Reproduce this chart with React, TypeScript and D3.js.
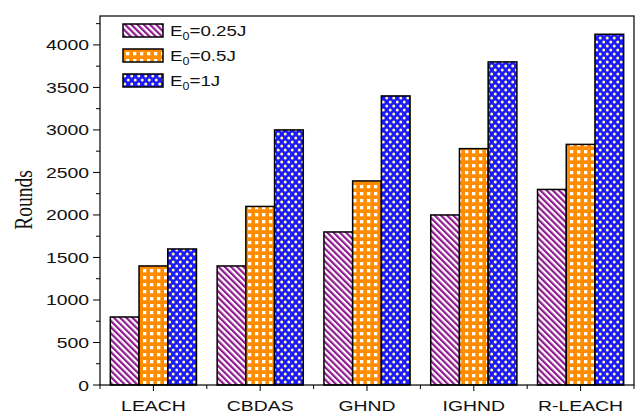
import React from "react";
import * as d3 from "d3";

const categories = ["LEACH", "CBDAS", "GHND", "IGHND", "R-LEACH"];
const seriesLabels = ["0.25J", "0.5J", "1J"];
const e025 = [800, 1400, 1800, 2000, 2300];
const e05 = [1400, 2100, 2400, 2780, 2830];
const e1 = [1600, 3000, 3400, 3800, 4125];
const yTicks = [0, 500, 1000, 1500, 2000, 2500, 3000, 3500, 4000];

const W = 641, H = 417;
const M = { left: 100, right: 7, top: 16, bottom: 32 };
const SX = 1.25;
const SANS = "Liberation Sans, Arial, sans-serif";

function T({ x, y, anchor, size, children, family }: any) {
  return (
    <text transform={`translate(${x},${y}) scale(${SX},1)`} textAnchor={anchor || "start"}
      fontFamily={family || SANS} fontSize={size || 15.5} fill="#111">{children}</text>
  );
}

export default function App() {
  const series = [e025, e05, e1];
  const x = d3.scaleBand<string>().domain(categories).range([M.left, W - M.right]).paddingInner(0).paddingOuter(0);
  const inner = d3.scaleBand<number>().domain([0, 1, 2]).range([0, x.bandwidth()]).paddingOuter(0.36).paddingInner(0);
  const y = d3.scaleLinear().domain([0, 4340]).range([H - M.bottom, M.top]);
  const minor = d3.range(250, 4340, 500);
  const fills = ["url(#pStripe)", "url(#pGrid)", "url(#pDots)"];
  const y0 = y(0);
  return (
    <svg width={W} height={H} style={{ position: "absolute", left: 0, top: 0, background: "#fff" }}>
      <defs>
        <pattern id="pStripe" patternUnits="userSpaceOnUse" width="4.4" height="10" patternTransform="rotate(-45)">
          <rect width="4.4" height="10" fill="#fff" />
          <rect x="0" y="0" width="2.2" height="10" fill="#8e1a8e" />
        </pattern>
        <pattern id="pGrid" patternUnits="userSpaceOnUse" width="7" height="7" x="1" y="1">
          <rect width="7" height="7" fill="#ff8c00" />
          <rect x="2" y="2" width="3.3" height="3.3" fill="#fff" />
        </pattern>
        <pattern id="pDots" patternUnits="userSpaceOnUse" width="7" height="8">
          <rect width="7" height="8" fill="#1a1aff" />
          <circle cx="1.75" cy="2" r="1.5" fill="#fff3a0" />
          <circle cx="5.25" cy="6" r="1.5" fill="#fff3a0" />
        </pattern>
      </defs>
      {categories.map((c, i) => (
        <g key={c}>
          {series.map((s, j) => (
            <rect key={j} x={(x(c) as number) + (inner(j) as number)} y={y(s[i])}
              width={inner.bandwidth()} height={y0 - y(s[i])} fill={fills[j]} stroke="#000" strokeWidth={1.5} />
          ))}
        </g>
      ))}
      <rect x={M.left} y={M.top} width={W - M.right - M.left} height={y0 - M.top} fill="none" stroke="#000" strokeWidth={1.2} />
      {yTicks.map(t => (
        <g key={t}>
          <line x1={M.left - 7} x2={M.left} y1={y(t)} y2={y(t)} stroke="#000" />
          <T x={M.left - 11} y={y(t) + 5.5} anchor="end">{t}</T>
        </g>
      ))}
      {minor.map(t => (
        <line key={t} x1={M.left - 4} x2={M.left} y1={y(t)} y2={y(t)} stroke="#000" />
      ))}
      {categories.map(c => (
        <g key={c}>
          <line x1={(x(c) as number) + x.bandwidth() / 2} x2={(x(c) as number) + x.bandwidth() / 2} y1={y0} y2={y0 + 6} stroke="#000" />
          <T x={(x(c) as number) + x.bandwidth() / 2} y={y0 + 26} anchor="middle">{c}</T>
        </g>
      ))}
      {categories.map((c, i) => (
        <line key={"m" + i} x1={(x(c) as number)} x2={(x(c) as number)} y1={y0} y2={y0 + 4} stroke="#000" />
      ))}
      <line x1={W - M.right} x2={W - M.right} y1={y0} y2={y0 + 4} stroke="#000" />
      <text transform={`translate(32,200) scale(${SX},1) rotate(-90)`} textAnchor="middle"
        fontFamily="Liberation Serif, Times New Roman, serif" fontSize={19.5} fill="#111">Rounds</text>
      {seriesLabels.map((l, j) => (
        <g key={l} transform={`translate(123,${24 + j * 25})`}>
          <rect x={0} y={0} width={40} height={13} fill={fills[j]} stroke="#000" strokeWidth={1.5} />
          <T x={47} y={12} size={15}>
            E<tspan fontSize={10} dy={4}>0</tspan><tspan dy={-4}>={l}</tspan>
          </T>
        </g>
      ))}
    </svg>
  );
}
